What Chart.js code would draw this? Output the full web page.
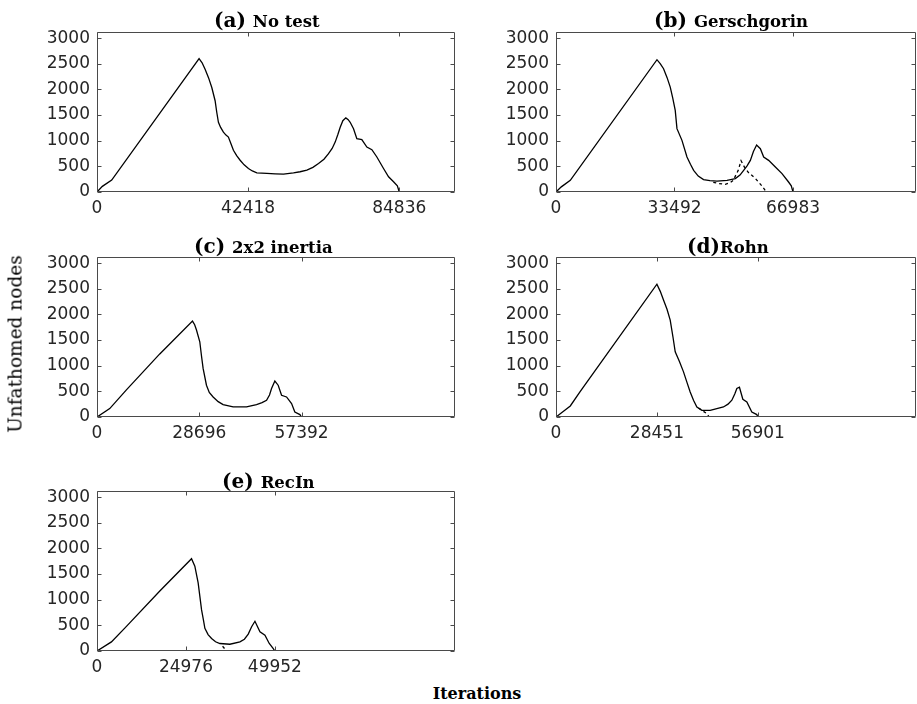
<!DOCTYPE html>
<html>
<head>
<meta charset="utf-8">
<script src="https://cdn.jsdelivr.net/npm/chart.js@4.4.1/dist/chart.umd.min.js"></script>
<style>
  body { margin: 0; background: #fff; }
  #wrap { position: relative; width: 917px; height: 704px; overflow: hidden; }
  canvas { position: absolute; }
  .ttl { position: absolute; font-family: "DejaVu Serif", serif; font-weight: bold; font-size: 20px; line-height: 20px; white-space: nowrap; color: #000; }
  .ttl span { font-size: 16.5px; }
  .axlbl { position: absolute; font-family: "DejaVu Serif", serif; white-space: nowrap; color: #000; transform: translate(-50%, -50%); }
</style>
</head>
<body>
<div id="wrap">
  <canvas id="chartA" width="460" height="215" style="left:0;top:0"></canvas>
  <canvas id="chartB" width="457" height="215" style="left:460px;top:0"></canvas>
  <canvas id="chartC" width="460" height="215" style="left:0;top:225px"></canvas>
  <canvas id="chartD" width="457" height="215" style="left:460px;top:225px"></canvas>
  <canvas id="chartE" width="460" height="215" style="left:0;top:459px"></canvas>

  <div class="ttl" style="left:214px;top:10px">(a) <span>No test</span></div>
  <div class="ttl" style="left:654px;top:10px">(b) <span>Gerschgorin</span></div>
  <div class="ttl" style="left:194px;top:236px">(c) <span>2x2 inertia</span></div>
  <div class="ttl" style="left:687px;top:236px">(d)<span>Rohn</span></div>
  <div class="ttl" style="left:222px;top:471px">(e) <span>RecIn</span></div>

  <div class="axlbl" style="left:15px;top:344px;font-size:18.5px;transform:translate(-50%,-50%) rotate(-90deg)">Unfathomed nodes</div>
  <div class="axlbl" style="left:477px;top:693px;font-size:16px;font-weight:bold">Iterations</div>
</div>

<script>
// valeurs
const yTicks = [0, 500, 1000, 1500, 2000, 2500, 3000];

// (a) No test
const noTestTicks = [0, 42418, 84836];
const noTestX = [0, 1500, 4130, 28650, 29500, 30340, 31300, 32220, 33150, 33600, 34080, 34700, 35480, 36200, 36880, 37600, 38290, 39200, 40170, 41300, 42500, 43600, 44860, 47670, 50000, 52350, 55150, 57000, 58900, 60600, 62170, 63700, 64980, 66000, 66850, 67600, 68260, 69000, 69840, 70500, 71060, 72000, 72930, 74330, 75740, 77150, 78550, 80420, 81830, 83230, 84300, 84836];
const noTestY = [0, 110, 232, 2600, 2520, 2393, 2230, 2038, 1780, 1560, 1360, 1260, 1167, 1110, 1070, 940, 813, 710, 619, 530, 458, 410, 374, 362, 355, 348, 374, 395, 426, 480, 555, 640, 748, 850, 973, 1120, 1264, 1390, 1445, 1410, 1360, 1232, 1039, 1020, 877, 826, 683, 458, 296, 200, 120, 0];

// (b) Gerschgorin
const gerTicks = [0, 33492, 66983];
const gerX = [0, 1500, 4040, 28540, 29500, 30400, 31400, 32290, 33000, 33700, 34190, 35600, 37020, 38000, 38900, 40200, 41700, 43500, 45500, 48330, 50690, 52000, 53040, 54000, 54930, 55800, 56700, 57760, 58700, 60100, 62000, 63880, 65730, 66500, 66983];
const gerY = [0, 100, 228, 2580, 2500, 2404, 2230, 2045, 1830, 1591, 1235, 1007, 682, 540, 423, 310, 241, 220, 214, 228, 261, 330, 423, 510, 617, 790, 915, 845, 682, 617, 487, 358, 195, 120, 0];
const gerDashX = [44450, 46000, 47840, 49200, 50100, 51510, 52300, 53300, 54340, 56320, 58300, 59430];
const gerDashY = [189, 165, 150, 180, 228, 423, 610, 480, 384, 267, 111, 0];

// (c) 2x2 inertia
const inertiaTicks = [0, 28696, 57392];
const inertiaX = [0, 3570, 8250, 17610, 26790, 27400, 27910, 28840, 29300, 29770, 30710, 31500, 32580, 34000, 35380, 38190, 41950, 44760, 46300, 47570, 48400, 48970, 49900, 50830, 51780, 53180, 54590, 55510, 56920, 57392];
const inertiaY = [0, 164, 530, 1230, 1870, 1800, 1696, 1467, 1200, 947, 620, 480, 391, 300, 243, 196, 196, 243, 280, 327, 430, 555, 700, 620, 424, 391, 262, 98, 47, 0];

// (d) Rohn
const rohnTicks = [0, 28451, 56901];
const rohnX = [0, 4030, 6850, 28450, 29400, 30310, 31300, 32200, 33000, 33610, 34800, 35950, 36900, 37830, 38800, 39720, 41130, 43470, 47210, 48500, 49580, 50400, 50990, 51720, 52680, 53810, 55210, 56620, 56901];
const rohnY = [0, 215, 500, 2590, 2450, 2283, 2100, 1891, 1550, 1272, 1080, 880, 680, 489, 320, 196, 131, 131, 196, 250, 327, 450, 555, 580, 346, 293, 98, 47, 0];
const rohnDashX = [40170, 42520, 43180];
const rohnDashY = [176, 66, 0];

// (e) RecIn
const recInTicks = [0, 24976, 49952];
const recInX = [0, 4050, 8270, 17640, 26550, 27480, 28410, 29370, 29900, 30300, 31200, 32180, 33300, 34520, 37330, 40140, 41400, 42480, 43430, 44360, 45770, 47170, 48380, 49510, 49952];
const recInY = [0, 177, 480, 1170, 1800, 1654, 1327, 801, 600, 441, 320, 244, 180, 146, 132, 177, 230, 329, 473, 580, 374, 309, 146, 47, 0];
const recInDashX = [35270, 36400];
const recInDashY = [93, 0];

function toPoints(xs, ys) {
  return xs.map((x, i) => ({ x: x, y: ys[i] }));
}

// cadre + graduations vers l'intérieur
const framePlugin = {
  id: 'frame',
  afterDraw(chart) {
    const { ctx, chartArea, scales } = chart;
    const l = Math.round(chartArea.left) + 0.5;
    const r = Math.round(chartArea.right) - 0.5;
    const t = Math.round(chartArea.top) + 0.5;
    const b = Math.round(chartArea.bottom) - 0.5;
    ctx.save();
    ctx.strokeStyle = '#4a4a4a';
    ctx.lineWidth = 1;
    ctx.beginPath();
    ctx.rect(l, t, r - l, b - t);
    for (const tick of scales.x.ticks) {
      const px = Math.round(scales.x.getPixelForValue(tick.value)) + 0.5;
      ctx.moveTo(px, b); ctx.lineTo(px, b - 4);
      ctx.moveTo(px, t); ctx.lineTo(px, t + 4);
    }
    for (const tick of scales.y.ticks) {
      const py = Math.round(scales.y.getPixelForValue(tick.value)) + 0.5;
      ctx.moveTo(l, py); ctx.lineTo(l + 4, py);
      ctx.moveTo(r, py); ctx.lineTo(r - 4, py);
    }
    ctx.stroke();
    ctx.restore();
  }
};

function createChart(id, xTicks, xMax, series, rightPad, yWidth) {
  const datasets = series.map(s => ({
    data: toPoints(s.x, s.y),
    borderColor: '#000',
    borderWidth: 1.3,
    borderDash: s.dash || [],
    pointRadius: 0,
    fill: false,
    tension: 0
  }));
  return new Chart(document.getElementById(id).getContext('2d'), {
    type: 'line',
    data: { datasets: datasets },
    options: {
      responsive: false,
      animation: false,
      devicePixelRatio: 1,
      layout: { padding: { top: 32, right: rightPad, left: 0, bottom: 0 } },
      plugins: { legend: { display: false }, tooltip: { enabled: false } },
      scales: {
        x: {
          type: 'linear',
          min: 0,
          max: xMax,
          grid: { display: false, drawTicks: false },
          border: { display: false },
          afterBuildTicks: scale => { scale.ticks = xTicks.map(v => ({ value: v })); },
          afterFit: scale => { scale.height = 23; },
          ticks: {
            padding: 6,
            maxRotation: 0,
            autoSkip: false,
            color: '#262626',
            font: { family: 'DejaVu Sans', size: 17 },
            callback: v => String(v)
          }
        },
        y: {
          min: 0,
          max: 3120,
          grid: { display: false, drawTicks: false },
          border: { display: false },
          afterBuildTicks: scale => { scale.ticks = yTicks.map(v => ({ value: v })); },
          afterFit: scale => { scale.width = yWidth; },
          ticks: {
            padding: 7,
            autoSkip: false,
            color: '#262626',
            font: { family: 'DejaVu Sans', size: 17 },
            callback: v => String(v)
          }
        }
      }
    },
    plugins: [framePlugin]
  });
}

createChart('chartA', noTestTicks, 100480, [{ x: noTestX, y: noTestY }], 5, 97);
createChart('chartB', gerTicks, 101750, [{ x: gerX, y: gerY }, { x: gerDashX, y: gerDashY, dash: [3, 3] }], 1, 96);
createChart('chartC', inertiaTicks, 100440, [{ x: inertiaX, y: inertiaY }], 5, 97);
createChart('chartD', rohnTicks, 101500, [{ x: rohnX, y: rohnY }, { x: rohnDashX, y: rohnDashY, dash: [3, 3] }], 1, 96);
createChart('chartE', recInTicks, 100550, [{ x: recInX, y: recInY }, { x: recInDashX, y: recInDashY, dash: [3, 3] }], 5, 97);
</script>
</body>
</html>
